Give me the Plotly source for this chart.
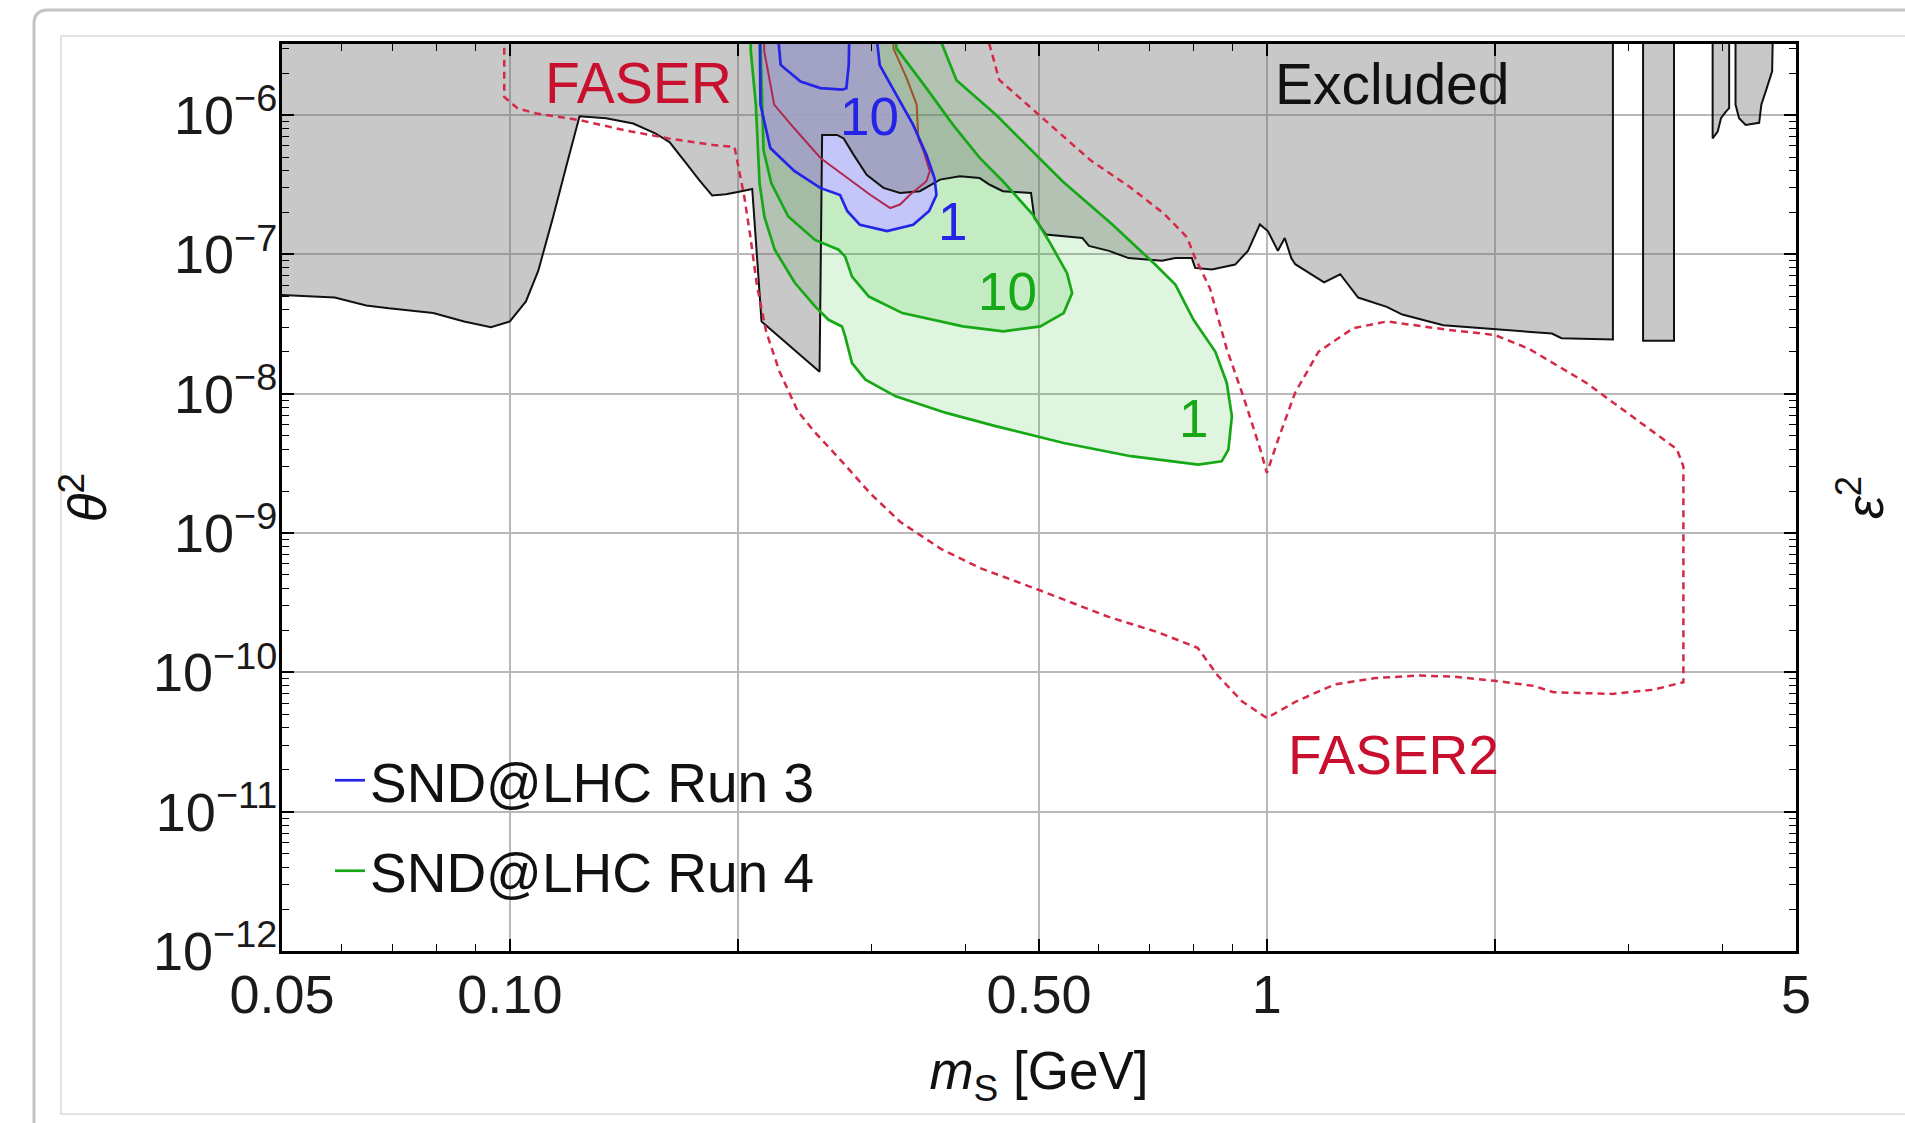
import numpy as np
import plotly.graph_objects as go

TOP = 1e-5  # value above the frame, used to close regions along the upper edge

# ---------------- data (mass in GeV, theta^2) ----------------
excl_mass = [0.04, 0.05, 0.0587, 0.0646, 0.0692, 0.0792, 0.087, 0.0944, 0.100, 0.105, 0.109, 0.114,
             0.119, 0.1236, 0.134, 0.1455, 0.1556, 0.1625, 0.171, 0.178, 0.185, 0.193, 0.200, 0.209,
             0.215, 0.2565, 0.2585, 0.2705, 0.276, 0.2844, 0.296, 0.3115, 0.3276, 0.348, 0.370, 0.393,
             0.4174, 0.4305, 0.448, 0.488, 0.493, 0.5108, 0.5706, 0.582, 0.6186, 0.6566, 0.727, 0.757,
             0.796, 0.804, 0.846, 0.908, 0.944, 0.979, 1.003, 1.034, 1.056, 1.077, 1.09, 1.19, 1.25,
             1.32, 1.44, 1.51, 1.71, 2.0, 2.38, 2.45, 2.865, 2.865, 0.04]
excl_theta2 = [5.1e-8, 5.1e-8, 4.9e-8, 4.3e-8, 4.1e-8, 3.8e-8, 3.3e-8, 3.0e-8, 3.3e-8, 4.6e-8, 7.6e-8, 1.84e-7,
               4.5e-7, 9.8e-7, 9.5e-7, 8.7e-7, 7.4e-7, 6.4e-7, 4.5e-7, 3.4e-7, 2.65e-7, 2.7e-7, 2.8e-7, 2.95e-7,
               3.3e-8, 1.44e-8, 7.2e-7, 7.2e-7, 6.8e-7, 5.2e-7, 3.73e-7, 3.0e-7, 2.76e-7, 2.84e-7, 3.44e-7, 3.63e-7,
               3.53e-7, 3.16e-7, 2.84e-7, 2.76e-7, 1.83e-7, 1.39e-7, 1.31e-7, 1.15e-7, 1.06e-7, 9.4e-8, 9.0e-8, 9.4e-8,
               9.4e-8, 8.0e-8, 7.8e-8, 8.45e-8, 1.06e-7, 1.64e-7, 1.47e-7, 1.06e-7, 1.31e-7, 9.4e-8, 8.5e-8, 6.3e-8, 7.2e-8,
               4.9e-8, 4.2e-8, 3.7e-8, 3.1e-8, 2.9e-8, 2.7e-8, 2.5e-8, 2.45e-8, TOP, TOP]
excl2_mass = [3.14, 3.14, 3.45, 3.45]
excl2_theta2 = [TOP, 2.4e-8, 2.4e-8, TOP]
excl3_mass = [3.88, 3.88, 3.94, 3.98, 4.04, 4.08, 4.08]
excl3_theta2 = [TOP, 6.8e-7, 7.6e-7, 9.5e-7, 1.06e-6, 1.12e-6, TOP]
excl4_mass = [4.16, 4.16, 4.205, 4.29, 4.47, 4.5, 4.56, 4.65, 4.675]
excl4_theta2 = [TOP, 1.19e-6, 9.5e-7, 8.5e-7, 8.8e-7, 1.19e-6, 1.48e-6, 2.06e-6, TOP]

# SND@LHC Run 4 (green) contours: 1 and 10 events
run4_1_mass = [0.2073, 0.2081, 0.2113, 0.2137, 0.2169, 0.2238, 0.2379, 0.253, 0.2636, 0.2746, 0.2773, 0.2831,
               0.2949, 0.3234, 0.377, 0.4394, 0.539, 0.6613, 0.8115, 0.8716, 0.8896, 0.899, 0.885, 0.855,
               0.800, 0.757, 0.712, 0.625, 0.537, 0.439, 0.389, 0.3425]
run4_1_theta2 = [TOP, 2.86e-6, 1.19e-6, 3.25e-7, 1.86e-7, 1.08e-7, 6.25e-8, 4.23e-8, 3.39e-8, 3.04e-8, 2.58e-8, 1.66e-8,
                 1.26e-8, 9.57e-9, 7.28e-9, 5.83e-9, 4.43e-9, 3.56e-9, 3.1e-9, 3.27e-9, 3.97e-9, 6.9e-9, 1.2e-8, 2.0e-8,
                 3.39e-8, 6.07e-8, 8.45e-8, 1.64e-7, 3.35e-7, 1.0e-6, 1.78e-6, TOP]
run4_10_mass = [0.2137, 0.2146, 0.2163, 0.2215, 0.2332, 0.2530, 0.2718, 0.2773, 0.2831, 0.298, 0.330, 0.3968,
                0.4484, 0.5019, 0.539, 0.553, 0.5445, 0.5175, 0.4906, 0.448, 0.4175, 0.385, 0.355, 0.324, 0.3215]
run4_10_theta2 = [TOP, 2.56e-6, 5.6e-7, 3.24e-7, 1.87e-7, 1.27e-7, 1.08e-7, 9.64e-8, 6.93e-8, 4.98e-8, 3.79e-8, 3.04e-8,
                  2.8e-8, 3.04e-8, 3.79e-8, 5.27e-8, 7.33e-8, 1.2e-7, 1.93e-7, 3.35e-7, 4.92e-7, 8.5e-7, 1.56e-6, 3.02e-6, TOP]

# SND@LHC Run 3 (blue) contours: 1 and 10 events
run3_1_mass = [0.2135, 0.2143, 0.2208, 0.2375, 0.257, 0.273, 0.279, 0.290, 0.315, 0.341, 0.358, 0.366,
               0.364, 0.355, 0.341, 0.324, 0.308, 0.299]
run3_1_theta2 = [TOP, 1.19e-6, 5.8e-7, 3.97e-7, 3.0e-7, 2.67e-7, 2.05e-7, 1.63e-7, 1.47e-7, 1.63e-7, 2.05e-7, 2.67e-7,
                 3.5e-7, 5.2e-7, 8.5e-7, 1.39e-6, 2.28e-6, TOP]
run3_10_mass = [0.2222, 0.2279, 0.2421, 0.2572, 0.2747, 0.2783, 0.2803, 0.2818]
run3_10_theta2 = [TOP, 2.29e-6, 1.74e-6, 1.56e-6, 1.52e-6, 1.56e-6, 2.29e-6, TOP]

# thin red / brown contour around the blue region
red_mass = [0.2157, 0.2168, 0.2234, 0.2373, 0.2572, 0.2789, 0.2992, 0.318, 0.3276, 0.3377, 0.355, 0.3587, 0.352, 0.3464]
red_theta2 = [TOP, 2.86e-6, 1.19e-6, 8.07e-7, 4.92e-7, 3.53e-7, 2.68e-7, 2.15e-7, 2.28e-7, 2.68e-7, 3.35e-7, 3.95e-7, 5.5e-7, 6.8e-7]
brown_mass = [0.3464, 0.3455, 0.3446, 0.3343, 0.3212, 0.3202]
brown_theta2 = [6.8e-7, 9.0e-7, 1.19e-6, 1.84e-6, 3.0e-6, TOP]

# FASER / FASER2 (dashed)
faser_mass = [0.0983, 0.0983, 0.1023, 0.108, 0.1236, 0.1415, 0.162, 0.1855, 0.198, 0.200, 0.204, 0.208, 0.212,
              0.218, 0.227, 0.24, 0.252, 0.274, 0.300, 0.328, 0.371, 0.418, 0.500, 0.618, 0.718, 0.810, 0.861,
              0.927, 1.0, 1.094, 1.23, 1.39, 1.59, 1.77, 2.0, 2.25, 2.39, 2.86, 3.24, 3.55, 3.55, 3.48, 3.03,
              2.64, 2.22, 2.0, 1.74, 1.57, 1.44, 1.30, 1.17, 1.09, 1.035, 1.0, 0.98, 0.933, 0.885, 0.841, 0.80,
              0.785, 0.732, 0.66, 0.585, 0.509, 0.443, 0.406]
faser_theta2 = [TOP, 1.35e-6, 1.12e-6, 1.03e-6, 9.2e-7, 7.8e-7, 6.8e-7, 6.1e-7, 5.9e-7, 4.5e-7, 2.6e-7, 1.3e-7, 6.0e-8,
                2.8e-8, 1.45e-8, 7.5e-9, 5.4e-9, 3.3e-9, 1.9e-9, 1.2e-9, 7.7e-10, 5.6e-10, 3.9e-10, 2.5e-10, 1.94e-10, 1.5e-10, 9.5e-11,
                6.2e-11, 4.7e-11, 6.2e-11, 8.2e-11, 9.1e-11, 9.5e-11, 9.3e-11, 8.7e-11, 8.0e-11, 7.2e-11, 7.0e-11, 7.5e-11, 8.5e-11, 3.0e-9, 4.0e-9, 6.9e-9,
                1.2e-8, 2.1e-8, 2.64e-8, 2.87e-8, 3.1e-8, 3.3e-8, 2.95e-8, 2.0e-8, 1.02e-8, 4.7e-9, 2.7e-9, 4.0e-9, 9.2e-9, 2.1e-8, 5.7e-8, 1.0e-7,
                1.32e-7, 1.95e-7, 3.03e-7, 4.73e-7, 9.2e-7, 1.79e-6, TOP]

x_tickvals = [0.05, 0.1, 0.2, 0.5, 1, 2, 5]
x_ticktext = ["0.05", "0.10", "", "0.50", "1", "", "5"]
y_exponents = [-12, -11, -10, -9, -8, -7, -6]

# ---------------- styling ----------------
FONT = "Liberation Sans, Arial, Helvetica, sans-serif"
GRAY_FILL = "rgba(110,110,110,0.38)"
GREEN = "#17a817"
GREEN_FILL = "rgba(40,190,40,0.15)"
BLUE = "#2424e8"
BLUE_FILL = "rgba(196,194,255,0.9)"
BLUE_FILL2 = "rgba(150,150,255,0.10)"
RED = "#d42a48"

fig = go.Figure()


def fill_region(x, y, color):
    fig.add_trace(go.Scatter(x=x, y=y, mode="lines", line=dict(width=0), fill="toself",
                             fillcolor=color, hoverinfo="skip", showlegend=False))


def outline(x, y, color, width=2.5, dash="solid", name=None, rank=None):
    fig.add_trace(go.Scatter(x=x, y=y, mode="lines", line=dict(color=color, width=width, dash=dash),
                             hoverinfo="skip", name=name, showlegend=name is not None,
                             legendgroup=name, legendrank=rank if rank else 1000))


# fills: signal regions first, translucent excluded area on top
fill_region(run4_1_mass, run4_1_theta2, GREEN_FILL)
fill_region(run4_10_mass, run4_10_theta2, GREEN_FILL)
fill_region(run3_1_mass, run3_1_theta2, BLUE_FILL)
fill_region(run3_10_mass, run3_10_theta2, BLUE_FILL2)
for xs, ys in [(excl_mass, excl_theta2), (excl2_mass, excl2_theta2),
               (excl3_mass, excl3_theta2), (excl4_mass, excl4_theta2)]:
    fill_region(xs, ys, GRAY_FILL)

# outlines
for xs, ys in [(excl_mass, excl_theta2), (excl2_mass, excl2_theta2),
               (excl3_mass, excl3_theta2), (excl4_mass, excl4_theta2)]:
    outline(xs, ys, "#111111", width=2)
outline(run4_1_mass, run4_1_theta2, GREEN, width=2.7, name="SND@LHC Run 4", rank=2)
outline(run4_10_mass, run4_10_theta2, GREEN, width=2.7)
outline(red_mass, red_theta2, "#b02850", width=2)
outline(brown_mass, brown_theta2, "#a0522d", width=2)
outline(run3_1_mass, run3_1_theta2, BLUE, width=2.7, name="SND@LHC Run 3", rank=1)
outline(run3_10_mass, run3_10_theta2, BLUE, width=2.7)
outline(faser_mass, faser_theta2, RED, width=2.5, dash="7px,5px")

# labels (data coords, log10 for log axes)
def label(text, x, y, color, size=54):
    fig.add_annotation(x=np.log10(x), y=np.log10(y), text=text, showarrow=False,
                       font=dict(family=FONT, size=size, color=color))

label("FASER", 0.1477, 1.7e-6, "#c8102e", 57)
label("Excluded", 1.466, 1.67e-6, "#111111", 57)
label("FASER2", 1.47, 2.55e-11, "#c8102e", 55)
label("10", 0.2983, 9.7e-7, BLUE, 53)
label("1", 0.3843, 1.71e-7, BLUE, 53)
label("10", 0.455, 5.4e-8, GREEN, 53)
label("1", 0.80, 6.6e-9, GREEN, 53)

# ---------------- layout ----------------
L, R, T, B = 282, 109, 44, 172
W, H = 1905, 1123
PW, PH = W - L - R, H - T - B


def px(X):
    return (X - L) / PW


def py(Y):
    return (H - B - Y) / PH


x_minor = [0.06, 0.07, 0.08, 0.09, 0.3, 0.4, 0.6, 0.7, 0.8, 0.9, 3, 4]
y_minor = [k * 10.0 ** e for e in range(-12, -5) for k in range(2, 10)]

axis_common = dict(showline=True, linecolor="black", linewidth=3, mirror="allticks",
                   ticks="inside", ticklen=12, tickwidth=1.5, tickcolor="black",
                   showgrid=True, gridcolor="#b9b9b9", gridwidth=1.5, zeroline=False,
                   tickfont=dict(family=FONT, size=54, color="#1a1a1a"))

fig.update_layout(
    width=W, height=H, autosize=False,
    margin=dict(l=L, r=R, t=T, b=B),
    paper_bgcolor="white", plot_bgcolor="white",
    font=dict(family=FONT, color="#111111"),
    xaxis=dict(type="log", range=[np.log10(0.05), np.log10(5)],
               tickmode="array", tickvals=x_tickvals, ticktext=x_ticktext,
               ticklabelstandoff=-6,
               minor=dict(tickmode="array", tickvals=x_minor, ticks="inside", ticklen=7,
                          tickcolor="black", tickwidth=1.2, showgrid=False),
               title=dict(text="<i>m</i><sub>S</sub> [GeV]", standoff=30,
                          font=dict(family=FONT, size=53, color="#111111")),
               **axis_common),
    yaxis=dict(type="log", range=[-12, -5.49],
               tickmode="array", tickvals=[10.0 ** e for e in y_exponents],
               ticktext=[f"10<sup>\u2212{-e}</sup>" for e in y_exponents],
               ticklabelstandoff=-9,
               minor=dict(tickmode="array", tickvals=y_minor, ticks="inside", ticklen=7,
                          tickcolor="black", tickwidth=1.2, showgrid=False),
               title=dict(text="<i>\u03b8</i><sup>2</sup>", standoff=30,
                          font=dict(family=FONT, size=53, color="#111111")),
               **axis_common),
    legend=dict(x=px(330), y=py(738), xanchor="left", yanchor="top",
                bgcolor="rgba(0,0,0,0)", borderwidth=0, tracegroupgap=16,
                font=dict(family=FONT, size=55, color="#111111")),
    showlegend=True,
)

# cut-off axis title of the neighbouring panel
fig.add_annotation(xref="paper", yref="paper", x=px(1896), y=py(498), text="<i>\u03b5</i><sup>2</sup>",
                   showarrow=False, textangle=-90, font=dict(family=FONT, size=52, color="#111111"))

# page card frame around the image
fig.add_shape(type="path", xref="paper", yref="paper",
              path=f"M {px(34)},{py(1140)} L {px(34)},{py(24)} Q {px(34)},{py(10)} {px(48)},{py(10)} L {px(1920)},{py(10)}",
              line=dict(color="#c4c4c4", width=3), layer="below")
fig.add_shape(type="rect", xref="paper", yref="paper",
              x0=px(61), y0=py(1114), x1=px(1920), y1=py(36),
              line=dict(color="#d9d9d9", width=1.5), layer="below")

fig.write_html("out.html")
